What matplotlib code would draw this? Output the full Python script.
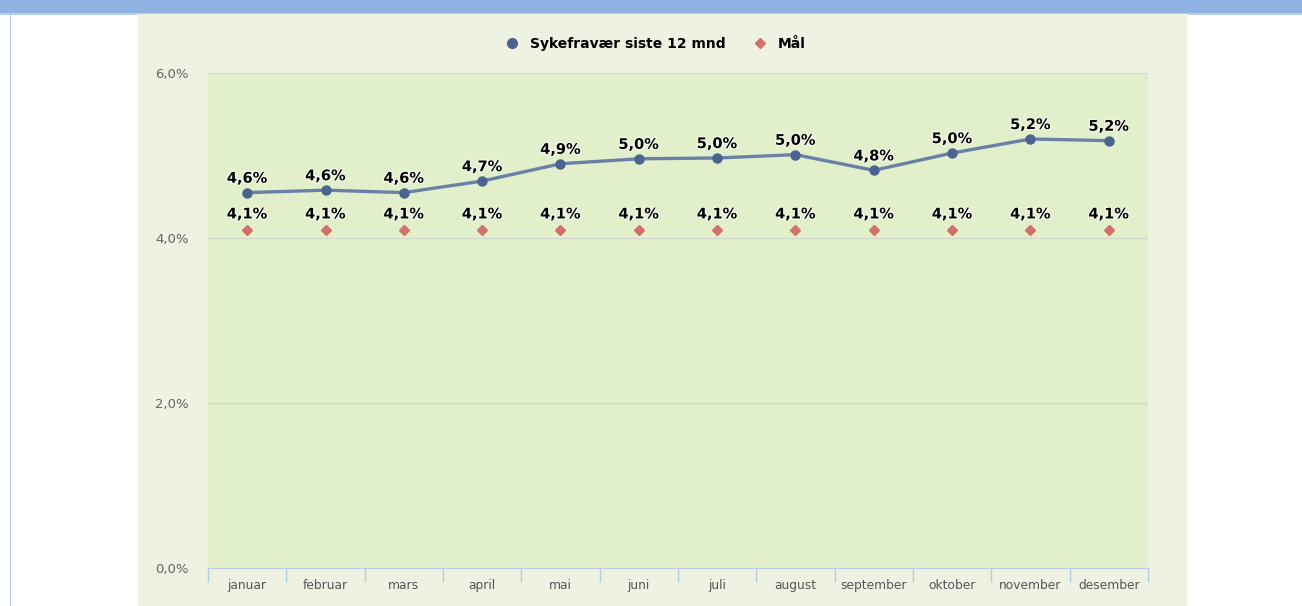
#!/usr/bin/env python3
# -*- coding: utf-8 -*-
""" Sykefravær siste 12 mnd mot mål """

import matplotlib
matplotlib.use("Agg")
import numpy as np
from matplotlib import pyplot as plt
from matplotlib import patheffects as pe
from matplotlib.lines import Line2D
from matplotlib.patches import Rectangle

months = ["januar", "februar", "mars", "april", "mai", "juni", "juli",
          "august", "september", "oktober", "november", "desember"]
sykefravaer = [4.55, 4.58, 4.55, 4.69, 4.90, 4.96, 4.97, 5.01, 4.82, 5.03,
               5.20, 5.18]
sykefravaer_lbl = ["4,6%", "4,6%", "4,6%", "4,7%", "4,9%", "5,0%", "5,0%",
                   "5,0%", "4,8%", "5,0%", "5,2%", "5,2%"]
maal = [4.1] * 12
maal_lbl = ["4,1%"] * 12
yticks = [0, 2, 4, 6]
ytick_lbl = ["0,0%", "2,0%", "4,0%", "6,0%"]

W, H = 1302, 606
c_line = "#6A80A6"
c_dot = "#4C6390"
c_goal = "#D2706A"
c_panel = "#EEF2E2"
c_plot = "#E2EFCB"
c_sep = "#B8CCE4"

fig = plt.figure(figsize=(W / 100, H / 100), dpi=100)
fig.patch.set_facecolor("white")

# page decoration: top blue band, left border, chart panel
deco = [((0, 1 - 14 / H), 1, 14 / H, "#8EB3E3"),
        ((0, 1 - 15 / H), 1, 1.5 / H, "#B9CFEA"),
        ((10 / W, 0), 1.2 / W, 1 - 14 / H, "#A9C4E6"),
        ((138 / W, 0), (1187 - 138) / W, 1 - 14 / H, c_panel)]
for xy, w, h, col in deco:
    fig.patches.append(Rectangle(xy, w, h, transform=fig.transFigure,
                                 facecolor=col, edgecolor="none", zorder=-5))

ax = fig.add_axes([208 / W, (H - 568) / H, 940 / W, 495 / H])
ax.set_facecolor(c_plot)

x = np.arange(len(months))
ax.plot(x, sykefravaer, "-", color=c_line, lw=2.4, zorder=3)
ax.plot(x, sykefravaer, "o", color=c_dot, ms=6.5, zorder=4)
ax.plot(x, maal, "D", color=c_goal, ms=5, zorder=4)

halo = [pe.withStroke(linewidth=1.8, foreground="#F4F8EC")]
for xi, v, s in zip(x, sykefravaer, sykefravaer_lbl):
    ax.annotate(s, (xi, v), xytext=(0, 5), textcoords="offset points",
                ha="center", va="bottom", fontsize=10.5, fontweight="bold",
                color="black", path_effects=halo, zorder=5)
for xi, v, s in zip(x, maal, maal_lbl):
    ax.annotate(s, (xi, v), xytext=(0, 6), textcoords="offset points",
                ha="center", va="bottom", fontsize=10.5, fontweight="bold",
                color="black", path_effects=halo, zorder=5)

ax.set_xlim(-0.5, len(months) - 0.5)
ax.set_ylim(0, 6)
ax.set_yticks(yticks)
ax.set_yticklabels(ytick_lbl)
ax.grid(axis="y", color="#D5D9D0", lw=1)
ax.set_axisbelow(True)

ax.set_xticks(x)
ax.set_xticklabels(months)
ax.set_xticks(np.arange(-0.5, len(months)), minor=True)
ax.tick_params(axis="x", which="major", length=0, pad=8, labelsize=8.8,
               labelcolor="#555555")
ax.tick_params(axis="x", which="minor", length=10, width=1, color=c_sep)
ax.tick_params(axis="y", length=0, pad=14, labelsize=9.5, labelcolor="#666666")

for side in ["top", "right", "left"]:
    ax.spines[side].set_visible(False)
ax.spines["bottom"].set_color(c_sep)

handles = [Line2D([], [], ls="none", marker="o", color=c_dot, ms=7),
           Line2D([], [], ls="none", marker="D", color=c_goal, ms=5)]
fig.legend(handles, ["Sykefravær siste 12 mnd", "Mål"], loc="center",
           bbox_to_anchor=(652 / W, 1 - 44 / H), ncol=2, frameon=False,
           handletextpad=0.3, columnspacing=1.5,
           prop={"weight": "bold", "size": 10})

plt.savefig("out.png", dpi=100, facecolor=fig.get_facecolor())
